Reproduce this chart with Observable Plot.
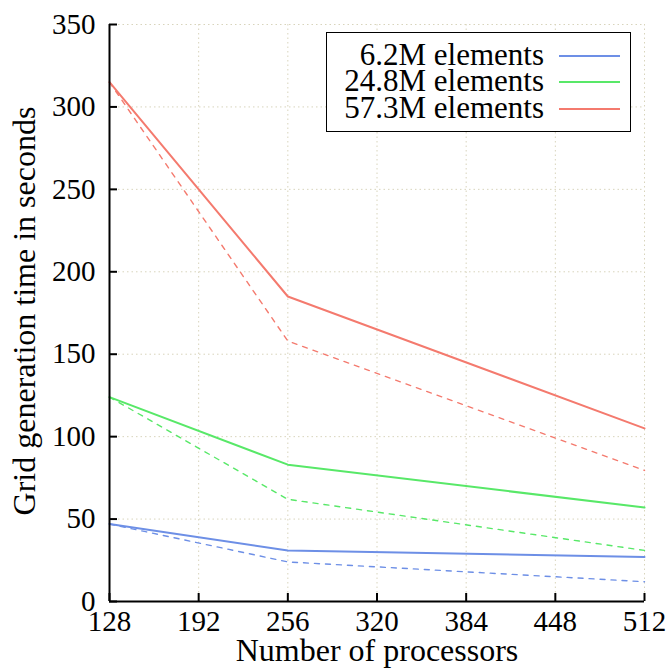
<!DOCTYPE html>
<html>
<head>
<meta charset="utf-8">
<script src="https://cdn.jsdelivr.net/npm/d3@7"></script>
<script src="https://cdn.jsdelivr.net/npm/@observablehq/plot@0.6"></script>
<style>
  html, body { margin: 0; padding: 0; background: #fff; }
  #chart { position: relative; width: 668px; height: 671px; }
  #legend {
    position: absolute; left: 326px; top: 32px; width: 303px; height: 98px;
    border: 1.6px solid #000; background: #fff; box-sizing: content-box;
    font-family: "Liberation Serif", "DejaVu Serif", serif; font-size: 31px;
  }
  .row { position: absolute; left: 0; height: 26px; }
  .row .lbl { position: absolute; top: 0; display: block; height: 26px; line-height: 26px; white-space: nowrap; text-align: right; overflow: visible; }
  .row .sw { position: absolute; top: 13px; height: 2px; }
</style>
</head>
<body>
<div id="chart"></div>
<script>
// Data
const processors = [128, 256, 512];
const seriesNames = ["6.2M elements", "24.8M elements", "57.3M elements"];
const seriesColors = ["#6d8fe6", "#58e868", "#f47a6e"];
const measured62 = [47, 31, 27];
const measured248 = [124, 83, 57];
const measured573 = [315, 185, 105];
const ideal62 = [47, 24, 12];
const ideal248 = [124, 62, 31];
const ideal573 = [315, 158, 79.5];
const xTicks = [128, 192, 256, 320, 384, 448, 512];
const yTicks = [0, 50, 100, 150, 200, 250, 300, 350];
const xLabel = "Number of processors";
const yLabel = "Grid generation time in seconds";

const measured = [measured62, measured248, measured573];
const ideal = [ideal62, ideal248, ideal573];
const rows = [];
seriesNames.forEach((name, i) => {
  processors.forEach((p, j) => {
    rows.push({series: name, kind: "measured", p, t: measured[i][j]});
    rows.push({series: name, kind: "ideal", p, t: ideal[i][j]});
  });
});

const font = "'Liberation Serif', 'DejaVu Serif', serif";
const W = 668, H = 671, mL = 109, mR = 24, mT = 24, mB = 70;
// inward tick length of 8px, expressed via the scale extents
const tickLenY = 8 / (H - mT - mB) * 350;
const tickLenX = 8 / (W - mL - mR) * (512 - 128);

const plot = Plot.plot({
  width: W,
  height: H,
  marginLeft: mL,
  marginRight: mR,
  marginTop: mT,
  marginBottom: mB,
  style: {fontFamily: font, fontSize: "30px", color: "#000", background: "#fff"},
  x: {domain: [128, 512]},
  y: {domain: [0, 350]},
  color: {domain: seriesNames, range: seriesColors},
  marks: [
    Plot.gridX(xTicks, {stroke: "#d8d4bc", strokeOpacity: 1, strokeDasharray: "1.5,3"}),
    Plot.gridY(yTicks, {stroke: "#d8d4bc", strokeOpacity: 1, strokeDasharray: "1.5,3"}),
    Plot.line(rows.filter(d => d.kind === "ideal"), {x: "p", y: "t", z: "series", stroke: "series", strokeWidth: 1.4, strokeDasharray: "5,6"}),
    Plot.line(rows.filter(d => d.kind === "measured"), {x: "p", y: "t", z: "series", stroke: "series", strokeWidth: 2}),
    Plot.axisX(xTicks, {tickSize: 0, tickPadding: 9, label: null, fontSize: 29}),
    Plot.axisY(yTicks, {tickSize: 0, tickPadding: 14, label: null, fontSize: 29}),
    Plot.ruleX(xTicks, {x: d => d, y1: 0, y2: tickLenY, stroke: "#000", strokeWidth: 2}),
    Plot.ruleY(yTicks, {y: d => d, x1: 128, x2: 128 + tickLenX, stroke: "#000", strokeWidth: 2}),
    Plot.ruleY([0], {stroke: "#000", strokeWidth: 2}),
    Plot.ruleX([128], {stroke: "#000", strokeWidth: 2}),
    Plot.text([xLabel], {text: d => d, frameAnchor: "bottom", dy: 49.5, textAnchor: "middle", lineAnchor: "middle", fontSize: 32}),
    Plot.text([yLabel], {text: d => d, frameAnchor: "left", dx: -84.5, dy: -2, rotate: -90, textAnchor: "middle", lineAnchor: "middle", fontSize: 32})
  ]
});
document.getElementById("chart").appendChild(plot);

// Legend
const legend = document.createElement("div");
legend.id = "legend";
seriesNames.forEach((name, i) => {
  const row = document.createElement("div");
  row.className = "row";
  row.style.top = (9 + i * 26.3) + "px";
  row.style.width = "303px";
  const lbl = document.createElement("span");
  lbl.className = "lbl";
  lbl.style.right = "86px";
  lbl.textContent = name;
  const sw = document.createElement("span");
  sw.className = "sw";
  sw.style.left = "232px";
  sw.style.width = "61px";
  sw.style.background = seriesColors[i];
  row.appendChild(lbl);
  row.appendChild(sw);
  legend.appendChild(row);
});
document.getElementById("chart").appendChild(legend);
</script>
</body>
</html>
